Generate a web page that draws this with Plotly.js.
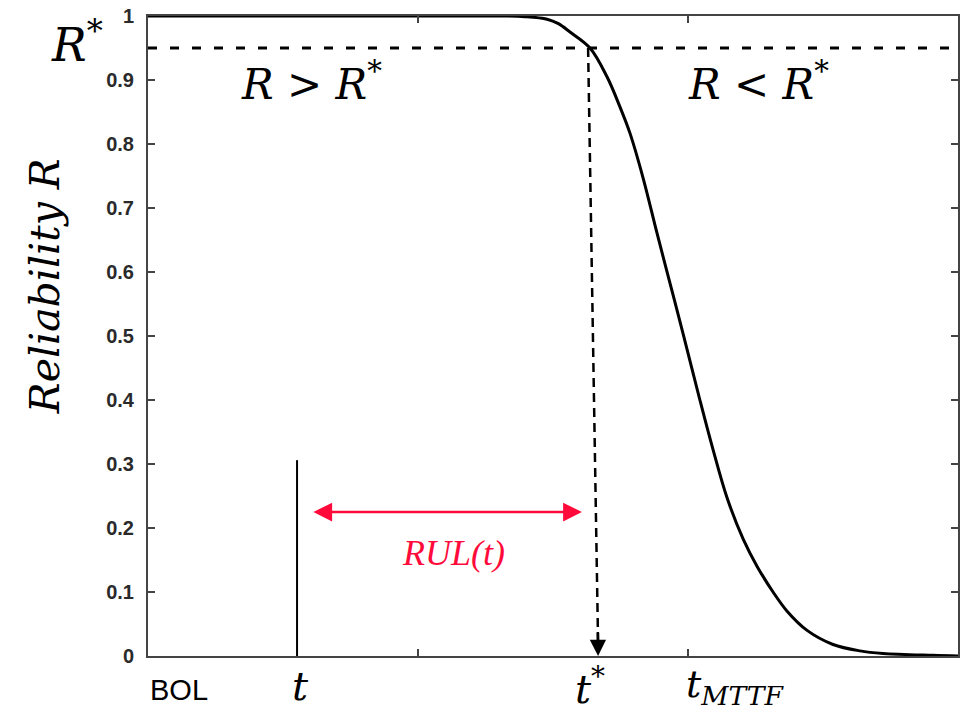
<!DOCTYPE html>
<html>
<head>
<meta charset="utf-8">
<script src="https://cdn.plot.ly/plotly-3.0.1.min.js"></script>
<style>html,body{margin:0;padding:0;background:#fff;}#chart{width:969px;height:714px;}</style>
</head>
<body>
<div id="chart"></div>
<script>
// Reliability curve R(t)
const timeVals = [0, 5, 10, 13.04, 13.96, 14.78, 15.2, 15.63, 16.37, 17.0, 17.48, 17.85, 18.33, 18.85, 19.33, 19.81, 20.44, 20.93, 21.44, 22.04, 22.56, 23.15, 23.67, 24.41, 25.37, 26.37, 27.22, 29.07, 30];
const reliabilityVals = [1, 1, 1, 1, 0.999, 0.995, 0.988, 0.975, 0.95, 0.905, 0.858, 0.817, 0.748, 0.661, 0.583, 0.505, 0.40, 0.322, 0.248, 0.183, 0.140, 0.100, 0.070, 0.040, 0.018, 0.008, 0.004, 0.001, 0];

// Key quantities
const Rstar = 0.95;
const tNow = 5.52;
const tNowLineTop = 0.306;
const tStarTop = 16.3;
const tStarBottom = 16.67;
const tMTTF = 20;
const rulY = 0.225;
const rulStart = 6.07;
const rulEnd = 16.07;

// Axis ticks
const xTickVals = [0, 10, 20, 30];
const yTickVals = [0, 0.1, 0.2, 0.3, 0.4, 0.5, 0.6, 0.7, 0.8, 0.9, 1];

const mathFont = {family: 'DejaVu Serif', style: 'italic', color: '#000'};
const red = '#ff0a3a';

const traces = [
  {x: timeVals, y: reliabilityVals, mode: 'lines', line: {color: '#000', width: 3, shape: 'spline', smoothing: 1}, hoverinfo: 'skip'},
  {x: [xTickVals[0], xTickVals[xTickVals.length-1]], y: [Rstar, Rstar], mode: 'lines', line: {color: '#000', width: 3, dash: '9px,13px'}},
  {x: [tStarTop, tStarBottom], y: [Rstar, 0.02], mode: 'lines', line: {color: '#000', width: 2.5, dash: '9px,6px'}},
  {x: [tNow, tNow], y: [0, tNowLineTop], mode: 'lines', line: {color: '#000', width: 2}}
];

const annotations = [
  // arrowhead of t* line
  {x: tStarBottom, y: 0, ax: tStarBottom - 0.01, ay: 0.04, xref: 'x', yref: 'y', axref: 'x', ayref: 'y',
   showarrow: true, arrowhead: 2, arrowsize: 1.3, arrowwidth: 2.5, arrowcolor: '#000', text: '', standoff: 0},
  // RUL double arrow
  {x: rulEnd, y: rulY, ax: rulStart, ay: rulY, xref: 'x', yref: 'y', axref: 'x', ayref: 'y',
   showarrow: true, arrowhead: 2, startarrowhead: 2, arrowside: 'end+start', arrowsize: 1.5, startarrowsize: 1.5,
   arrowwidth: 2.5, arrowcolor: red, text: '', standoff: 0, startstandoff: 0},
  {x: (rulStart + rulEnd) / 2 + 0.25, y: rulY - 0.03, xref: 'x', yref: 'y', text: 'RUL(t)', showarrow: false,
   yanchor: 'top', font: {family: 'Liberation Serif', style: 'italic', size: 36, color: red}},
  // region labels
  {x: 6.07, y: 0.897, xref: 'x', yref: 'y', text: 'R &gt; R<sup>*</sup>', showarrow: false,
   font: Object.assign({size: 42}, mathFont)},
  {x: 22.6, y: 0.897, xref: 'x', yref: 'y', text: 'R &lt; R<sup>*</sup>', showarrow: false,
   font: Object.assign({size: 42}, mathFont)},
  // R* label on the left
  {x: 0, y: Rstar, xref: 'x', yref: 'y', xanchor: 'right', xshift: -43, yshift: 6, text: 'R<sup>*</sup>', showarrow: false,
   font: Object.assign({size: 46}, mathFont)},
  // x labels
  {x: 0, y: 0, xref: 'x', yref: 'y', xanchor: 'left', yanchor: 'top', yshift: -16, text: 'BOL', showarrow: false,
   font: {family: 'Liberation Sans', size: 29, color: '#000'}},
  {x: tNow, y: 0, xref: 'x', yref: 'y', xanchor: 'center', yanchor: 'top', yshift: -5, xshift: 3, text: 't', showarrow: false,
   font: Object.assign({size: 40}, mathFont)},
  {x: tStarBottom, y: 0, xref: 'x', yref: 'y', xanchor: 'center', yanchor: 'top', yshift: -2, xshift: -8, text: 't<sup>*</sup>', showarrow: false,
   font: Object.assign({size: 40}, mathFont)},
  {x: tMTTF, y: 0, xref: 'x', yref: 'y', xanchor: 'left', yanchor: 'top', yshift: -4, xshift: -4, text: 't<sub>MTTF</sub>', showarrow: false,
   font: Object.assign({size: 38}, mathFont)},
  // y-axis title
  {x: -0.127, y: 0.578, xref: 'paper', yref: 'paper', xanchor: 'center', yanchor: 'middle', textangle: -90,
   text: 'Reliability R', showarrow: false, font: Object.assign({size: 41}, mathFont)}
];

const axisCommon = {
  showgrid: false, zeroline: false, showline: true, linecolor: '#444', linewidth: 2,
  mirror: 'ticks', ticks: 'inside', ticklen: 7, tickwidth: 2, tickcolor: '#444'
};

const layout = {
  width: 969, height: 714,
  margin: {l: 148, r: 11, t: 16, b: 58},
  paper_bgcolor: '#fff', plot_bgcolor: '#fff',
  showlegend: false,
  xaxis: Object.assign({}, axisCommon, {range: [0, 30], tickvals: xTickVals, showticklabels: false}),
  yaxis: Object.assign({}, axisCommon, {range: [0, 1], tickvals: yTickVals, ticklabelstandoff: 8,
    tickfont: {family: 'Liberation Sans', size: 20, color: '#2a2a2a', weight: 'bold'}}),
  annotations: annotations
};

Plotly.newPlot('chart', traces, layout, {displayModeBar: false, staticPlot: true});
</script>
</body>
</html>
